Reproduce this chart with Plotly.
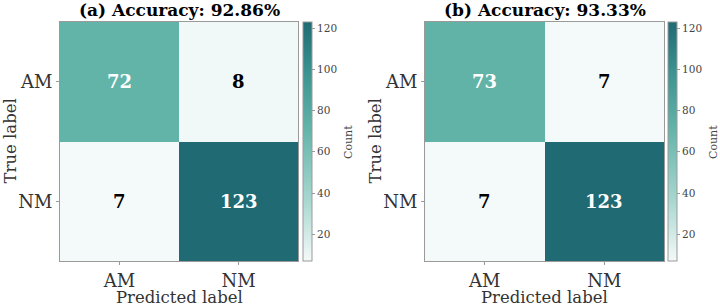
import plotly.graph_objects as go

# ---- data ----
labels = ["AM", "NM"]
cm_a = [[72, 8], [7, 123]]
cm_b = [[73, 7], [7, 123]]
titles = ["(a) Accuracy: 92.86%", "(b) Accuracy: 93.33%"]
cbar_ticks = [20, 40, 60, 80, 100, 120]
zmin, zmax = 7, 123

W, H = 720, 308
FONT = "DejaVu Serif"

scale = [
    [0.0, "#f4f9f9"],
    [0.25, "#a8d8d0"],
    [0.56, "#62b3a8"],
    [0.80, "#3a918f"],
    [1.0, "#206a74"],
]

def px_x(p):
    return p / W

def px_y(p):
    return 1 - p / H

top, bot = 22, 261
panels = [
    dict(x0=60, x1=298, cb=303),
    dict(x0=425, x1=664, cb=668),
]

fig = go.Figure()
mats = [cm_a, cm_b]
for i, (m, p) in enumerate(zip(mats, panels)):
    sfx = "" if i == 0 else str(i + 1)
    fig.add_trace(go.Heatmap(
        z=m, x=labels, y=labels,
        xaxis="x" + sfx, yaxis="y" + sfx,
        coloraxis="coloraxis" + sfx,
        hoverinfo="skip",
    ))
    # cell value annotations
    for r, yl in enumerate(labels):
        for c, xl in enumerate(labels):
            v = m[r][c]
            fig.add_annotation(
                x=xl, y=yl, xref="x" + sfx, yref="y" + sfx,
                text=str(v), showarrow=False,
                font=dict(family=FONT, size=18,
                          color="white" if v > 50 else "black",
                          weight="bold"),
            )
    ax = dict(
        domain=[px_x(p["x0"]), px_x(p["x1"])],
        showline=True, linecolor="#9a9a9a", linewidth=1, mirror=True,
        ticks="outside", ticklen=3, tickcolor="#9a9a9a",
        tickfont=dict(family=FONT, size=18, color="#333333"),
        showgrid=False, zeroline=False, fixedrange=True,
    )
    fig.update_layout(**{
        "xaxis" + sfx: dict(ax, anchor="y" + sfx,
                            categoryorder="array", categoryarray=labels),
        "yaxis" + sfx: dict(ax, domain=[px_y(bot), px_y(top)],
                            anchor="x" + sfx, autorange="reversed",
                            categoryorder="array", categoryarray=labels),
        "coloraxis" + sfx: dict(
            colorscale=scale, cmin=zmin, cmax=zmax,
            colorbar=dict(
                x=px_x(p["cb"]), xanchor="left", xpad=0, ypad=0,
                y=px_y((top + bot) / 2), yanchor="middle",
                lenmode="pixels", len=bot - top,
                thicknessmode="pixels", thickness=9,
                outlinecolor="#9a9a9a", outlinewidth=1,
                ticks="outside", ticklen=3, tickcolor="#9a9a9a",
                tickvals=cbar_ticks,
                tickfont=dict(family=FONT, size=10.5, color="#444444"),
            ),
        ),
    })
    cx = (p["x0"] + p["x1"]) / 2
    # title
    fig.add_annotation(
        x=px_x(cx), y=px_y(10), xref="paper", yref="paper",
        text=titles[i], showarrow=False, xanchor="center", yanchor="middle",
        font=dict(family=FONT, size=17, color="black", weight="bold"),
    )
    # x axis title
    fig.add_annotation(
        x=px_x(cx), y=px_y(297), xref="paper", yref="paper",
        text="Predicted label", showarrow=False, xanchor="center", yanchor="middle",
        font=dict(family=FONT, size=16.5, color="#333333"),
    )
    # y axis title
    fig.add_annotation(
        x=px_x(p["x0"] - 50), y=px_y((top + bot) / 2), xref="paper", yref="paper",
        text="True label", showarrow=False, textangle=-90,
        xanchor="center", yanchor="middle",
        font=dict(family=FONT, size=16.5, color="#333333"),
    )
    # colorbar title
    fig.add_annotation(
        x=px_x(p["cb"] + 45), y=px_y(142), xref="paper", yref="paper",
        text="Count", showarrow=False, textangle=-90,
        xanchor="center", yanchor="middle",
        font=dict(family=FONT, size=11, color="#444444"),
    )

fig.update_layout(
    width=W, height=H,
    margin=dict(l=0, r=0, t=0, b=0),
    paper_bgcolor="white", plot_bgcolor="white",
    showlegend=False,
)

fig.write_html("out.html")
